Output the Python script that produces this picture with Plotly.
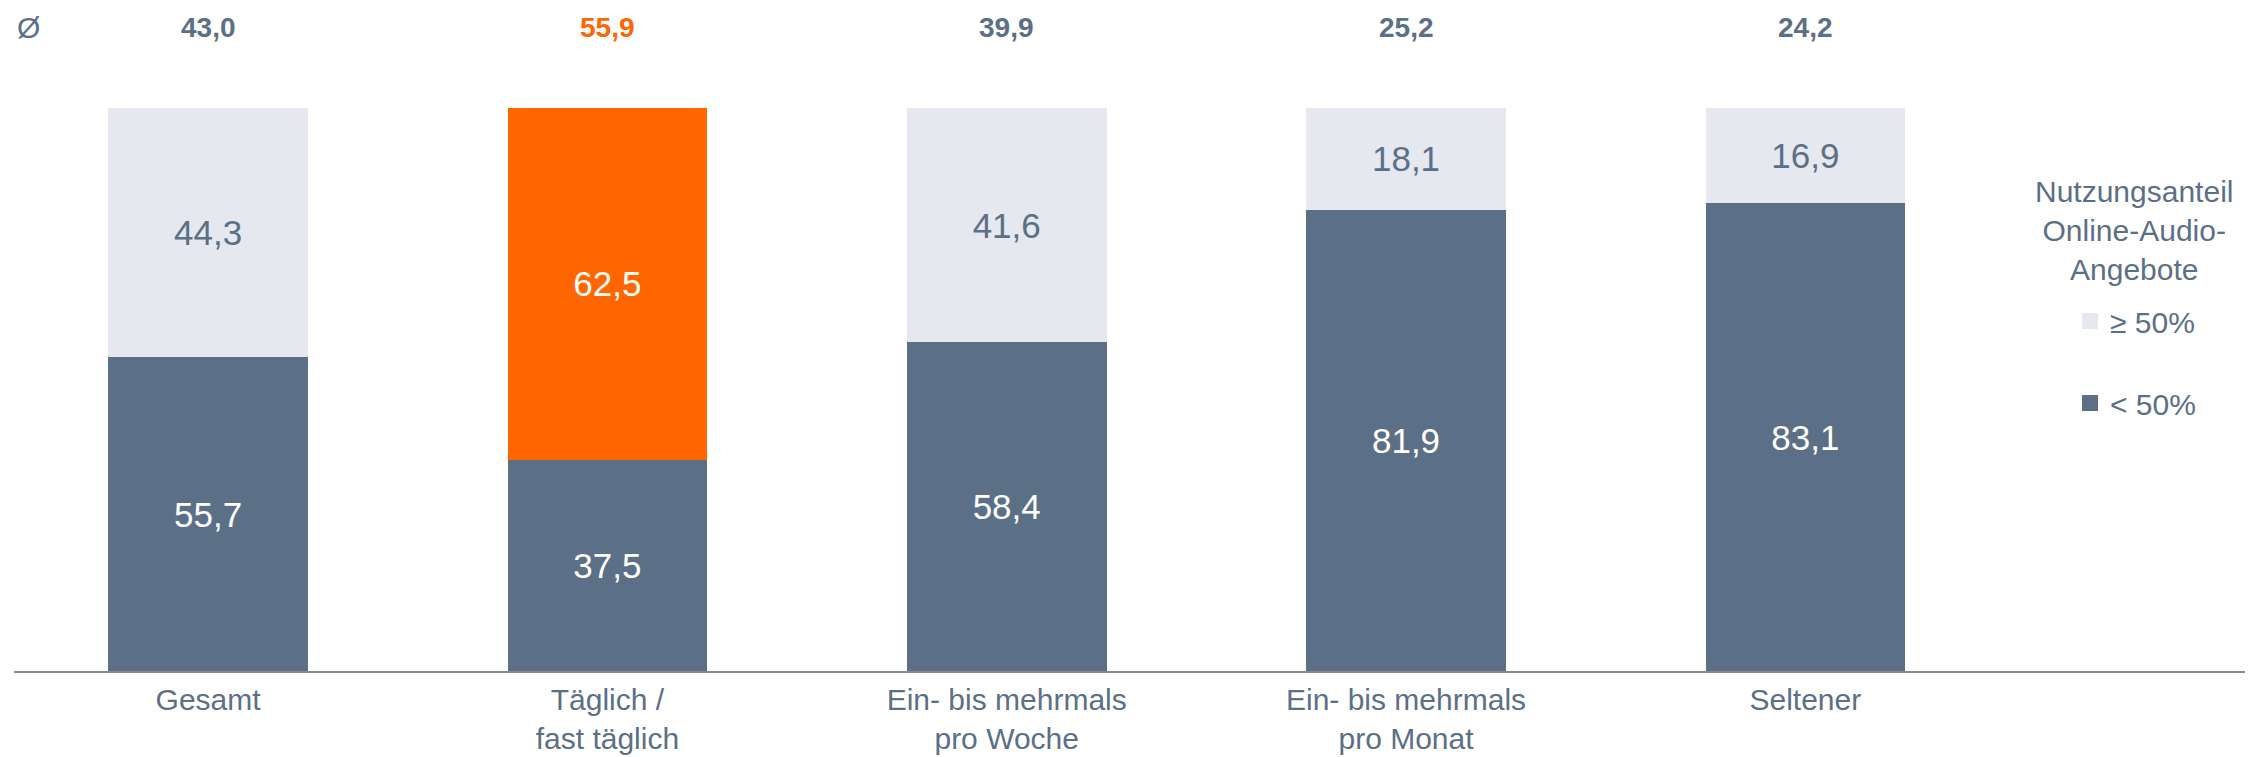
import plotly.graph_objects as go

categories = ["Gesamt", "Täglich /<br>fast täglich", "Ein- bis mehrmals<br>pro Woche",
              "Ein- bis mehrmals<br>pro Monat", "Seltener"]
below_50 = [55.7, 37.5, 58.4, 81.9, 83.1]
above_50 = [44.3, 62.5, 41.6, 18.1, 16.9]
averages = [43.0, 55.9, 39.9, 25.2, 24.2]
legend_names = ["≥ 50%", "< 50%"]
legend_title = "Nutzungsanteil<br>Online-Audio-<br>Angebote"
highlight = 1

DARK = "#5b7086"
LIGHT = "#e5e8ee"
ORANGE = "#ff6600"
TEXT = "#5b7086"
FONT = "Liberation Sans, Arial, sans-serif"

W, H = 2262, 757
L, R, T, B = 14, 17, 108, 86
PW, PH = W - L - R, H - T - B

def px_x(X):
    return (X - L) / PW

def px_y(Y):
    return (H - B - Y) / PH

def fmt(v):
    return f"{v:.1f}".replace(".", ",")

x = list(range(len(categories)))

fig = go.Figure()
fig.add_trace(go.Bar(
    x=x, y=below_50, name=legend_names[1], marker=dict(color=DARK, line=dict(width=0)),
    text=[fmt(v) for v in below_50], textposition="inside", insidetextanchor="middle",
    textfont=dict(color="white", size=35, family=FONT), width=0.5,
    showlegend=False, constraintext="none", hoverinfo="skip",
))
fig.add_trace(go.Bar(
    x=x, y=above_50, name=legend_names[0],
    marker=dict(color=[ORANGE if i == highlight else LIGHT for i in x], line=dict(width=0)),
    text=[fmt(v) for v in above_50], textposition="inside", insidetextanchor="middle",
    textfont=dict(color=["white" if i == highlight else TEXT for i in x], size=35, family=FONT),
    width=0.5, showlegend=False, constraintext="none", hoverinfo="skip",
))
# legend entries (proxies with larger square symbols)
for name, col, grp in [(legend_names[0], LIGHT, "a"), (legend_names[1], DARK, "b")]:
    fig.add_trace(go.Scatter(
        x=[None], y=[None], mode="markers", name=name, legendgroup=grp,
        marker=dict(symbol="square", size=16, color=col, line=dict(width=0)),
        hoverinfo="skip",
    ))

annotations = [dict(x=px_x(28), y=px_y(27), xref="paper", yref="paper", text="Ø", showarrow=False,
                    font=dict(size=30, color=TEXT, family=FONT), xanchor="center", yanchor="middle")]
for i, v in enumerate(averages):
    annotations.append(dict(
        x=i, y=px_y(27), xref="x", yref="paper", text=f"<b>{fmt(v)}</b>", showarrow=False,
        font=dict(size=28, color=ORANGE if i == highlight else TEXT, family=FONT),
        xanchor="center", yanchor="middle"))
annotations.append(dict(
    x=px_x(2134), y=px_y(230), xref="paper", yref="paper",
    text=legend_title, showarrow=False, align="center",
    font=dict(size=30, color=TEXT, family=FONT), xanchor="center", yanchor="middle"))

fig.update_layout(
    barmode="stack",
    width=W, height=H,
    margin=dict(l=L, r=R, t=T, b=B, autoexpand=False),
    paper_bgcolor="white", plot_bgcolor="white",
    font=dict(family=FONT, color=TEXT),
    xaxis=dict(range=[-0.486, 5.101], tickvals=x, ticktext=categories,
               showline=True, linecolor="#8a8a8a", linewidth=2, showgrid=False,
               zeroline=False, ticks="", tickfont=dict(size=30, color=TEXT, family=FONT),
               ticklabelstandoff=1, automargin=False),
    yaxis=dict(range=[0, 100], visible=False, showgrid=False, zeroline=False, automargin=False),
    legend=dict(xref="container", yref="container", x=2070 / W, y=1 - 295 / H,
                xanchor="left", yanchor="top", traceorder="grouped", tracegroupgap=40,
                font=dict(size=30, color=TEXT, family=FONT), bgcolor="rgba(0,0,0,0)"),
    annotations=annotations,
    bargap=0.5,
)

fig.write_html("out.html")
